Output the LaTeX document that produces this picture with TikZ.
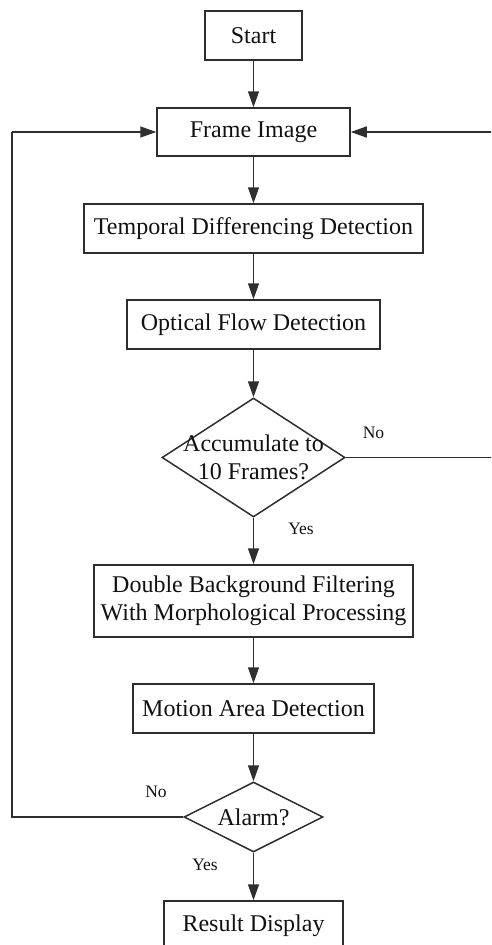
\documentclass[tikz,border=0pt]{standalone}
\usepackage{fontspec}
\setmainfont{Liberation Serif}
\usetikzlibrary{shapes.geometric,arrows.meta}
\definecolor{ln}{HTML}{2e2e2e}
\definecolor{tx}{HTML}{111111}
\begin{document}
\begin{tikzpicture}[x=1pt,y=-1pt,
  proc/.style={draw=ln,line width=1.5pt,rectangle,inner sep=0pt,text=tx,
    font=\fontsize{24}{28}\selectfont,align=center},
  dec/.style={draw=ln,line width=1.5pt,diamond,inner sep=0pt,shape aspect=1},
  lbl/.style={text=tx,font=\fontsize{17.5}{20}\selectfont,inner sep=0pt},
  arr/.style={draw=ln,line width=1.5pt,-{Triangle[length=16pt,width=11pt]}},
  ln/.style={draw=ln,line width=1.5pt}]
\useasboundingbox (0,0) rectangle (491,945);
\clip (0,0) rectangle (491,945);
\node[proc,minimum width=97pt,minimum height=49pt] (start) at (253.5,35.5) {Start};
\node[proc,minimum width=193pt,minimum height=48pt] (frame) at (253.5,132) {Frame Image};
\node[proc,minimum width=339pt,minimum height=49pt] (temp) at (253.5,228.5) {Temporal Differencing Detection};
\node[proc,minimum width=253pt,minimum height=49pt] (opt) at (253.5,324.5) {Optical Flow Detection};
\node[dec,minimum width=183pt,minimum height=119pt,
  label={[proc,draw=none,anchor=center]center:Accumulate to\\10 Frames?}] (acc) at (253.5,457.5) {};
\node[proc,minimum width=319pt,minimum height=72pt] (dbl) at (253.5,601) {Double Background Filtering\\With Morphological Processing};
\node[proc,minimum width=241pt,minimum height=49pt] (mot) at (253.5,708.5) {Motion Area Detection};
\node[dec,minimum width=139pt,minimum height=70pt,
  label={[proc,draw=none,anchor=center]center:Alarm?}] (alarm) at (253.5,817) {};
\node[proc,minimum width=179pt,minimum height=49pt] (res) at (253.5,925.5) {Result Display};

\coordinate (r1) at (497,457.5);
\coordinate (r2) at (497,132);
\coordinate (l1) at (12,817);
\coordinate (l2) at (12,132);

\draw[arr] (start) -- (frame);
\draw[arr] (frame) -- (temp);
\draw[arr] (temp) -- (opt);
\draw[arr] (opt) -- (acc);
\draw[arr] (acc) -- (dbl);
\draw[arr] (dbl) -- (mot);
\draw[arr] (mot) -- (alarm);
\draw[arr] (alarm) -- (res);
\draw[ln] (acc.east) -- (r1) -- (r2);
\draw[arr] (r2) -- (frame.east);
\draw[ln] (alarm.west) -- (l1) -- (l2);
\draw[arr] (l2) -- (frame.west);

\node[lbl] (no1) at (373.5,433) {No};
\node[lbl] (yes1) at (301,529) {Yes};
\node[lbl] (no2) at (156,792) {No};
\node[lbl] (yes2) at (205,865) {Yes};
\end{tikzpicture}
\end{document}
